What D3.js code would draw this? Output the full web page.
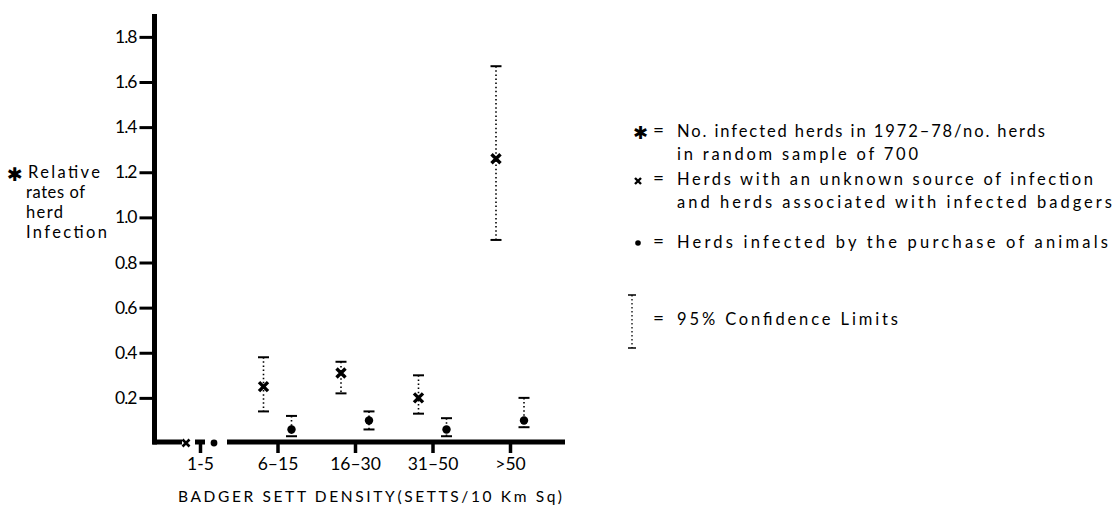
<!DOCTYPE html>
<html>
<head>
<meta charset="utf-8">
<script src="https://cdn.jsdelivr.net/npm/d3@7"></script>
<style>
  body { margin: 0; background: #fff; }
  svg { display: block; }
  text { font-family: Lato, "Open Sans", sans-serif; fill: #000; }
</style>
</head>
<body>
<svg id="chart" width="1115" height="506"></svg>
<script>
// categories of badger sett density
const categories = ["1-5", "6\u201315", "16\u201330", "31\u201350", ">50"];

// x = herds with unknown source / associated with infected badgers
const unknownRate = [0, 0.25, 0.31, 0.20, 1.26];
const unknownLow  = [null, 0.14, 0.22, 0.13, 0.90];
const unknownHigh = [null, 0.38, 0.36, 0.30, 1.67];

// dot = herds infected by purchase of animals
const purchaseRate = [0, 0.06, 0.10, 0.06, 0.10];
const purchaseLow  = [null, 0.03, 0.06, 0.03, 0.07];
const purchaseHigh = [null, 0.12, 0.14, 0.11, 0.20];

const yTicks = [0.2, 0.4, 0.6, 0.8, 1.0, 1.2, 1.4, 1.6, 1.8];

const yLabelLines = ["Relative", "rates of", "herd", "Infection"];
const xTitle = "BADGER SETT DENSITY(SETTS/10 Km Sq)";

const legendItems = [
    {sym: "star", lines: ["No. infected herds in 1972\u201378/no. herds", "in random sample of 700"]},
    {sym: "cross", lines: ["Herds with an unknown source of infection", "and herds associated with infected badgers"]},
    {sym: "dot", lines: ["Herds infected by the purchase of animals"]},
    {sym: "ci", lines: ["95% Confidence Limits"]}
];

const svg = d3.select("#chart");

const axisX = 154.5, axisY = 442;

const y = d3.scaleLinear().domain([0, 1.6]).range([443, 82]);
const x = d3.scalePoint().domain(categories).range([200, 510]);

const off = 14; // offset of the two series around the tick

// ---- y axis ----
const yAxis = svg.append("g")
    .attr("transform", `translate(${axisX},0)`)
    .call(d3.axisLeft(y).tickValues(yTicks).tickFormat(d3.format(".1f")).tickSize(15).tickPadding(3));
yAxis.select(".domain").remove();
yAxis.selectAll(".tick line").attr("stroke", "#000").attr("stroke-width", 3);
yAxis.selectAll(".tick text")
    .style("font-size", "17.5px").style("font-family", "Lato, sans-serif").attr("fill", "#000")
    .attr("letter-spacing", "-1");

svg.append("line")
    .attr("x1", axisX).attr("x2", axisX)
    .attr("y1", 14).attr("y2", axisY + 2.5)
    .attr("stroke", "#000").attr("stroke-width", 5);

// ---- x axis ----
const xAxis = svg.append("g")
    .attr("transform", `translate(0,${axisY})`)
    .call(d3.axisBottom(x).tickSize(11).tickPadding(5));
xAxis.select(".domain").remove();
xAxis.selectAll(".tick line").attr("stroke", "#000").attr("stroke-width", 3.5);
xAxis.selectAll(".tick text")
    .style("font-size", "17.5px").style("font-family", "Lato, sans-serif").attr("fill", "#000");

// broken base line around the 1-5 points
const x0 = x(categories[0]);
const baseSegs = [[axisX - 2, x0 - 18], [x0 - 5, x0 + 5], [x0 + 27, 565]];
svg.selectAll(".baseSeg").data(baseSegs).enter().append("line")
    .attr("class", "baseSeg")
    .attr("x1", d => d[0]).attr("x2", d => d[1])
    .attr("y1", axisY).attr("y2", axisY)
    .attr("stroke", "#000").attr("stroke-width", 5);

svg.append("text")
    .attr("x", 178).attr("y", 502)
    .attr("textLength", 384).attr("lengthAdjust", "spacing")
    .style("font-size", "15.5px")
    .text(xTitle);

// ---- y label ----
svg.append("text").attr("x", 7).attr("y", 181)
    .style("font-family", "DejaVu Sans").style("font-size", "19px").style("font-weight", "bold")
    .text("\u2731");
const yLabX = [28, 26, 26, 26], yLabW = [72, 59, 37, 81];
svg.selectAll(".ylab").data(yLabelLines).enter().append("text")
    .attr("class", "ylab")
    .attr("x", (d, i) => yLabX[i])
    .attr("y", (d, i) => 178 + i * 20)
    .attr("textLength", (d, i) => yLabW[i]).attr("lengthAdjust", "spacing")
    .style("font-size", "16.5px")
    .text(d => d);

// ---- marks ----
function errorBar(g, cx, lo, hi, capW) {
    g.append("line")
        .attr("x1", cx).attr("x2", cx)
        .attr("y1", y(hi)).attr("y2", y(lo))
        .attr("stroke", "#000").attr("stroke-width", 1.6)
        .attr("stroke-dasharray", "1.5,2.6");
    [hi, lo].forEach(v => {
        g.append("line")
            .attr("x1", cx - capW / 2).attr("x2", cx + capW / 2)
            .attr("y1", y(v)).attr("y2", y(v))
            .attr("stroke", "#000").attr("stroke-width", 2);
    });
}

function cross(g, cx, cy, s, w) {
    g.append("path")
        .attr("d", `M${cx - s},${cy - s}L${cx + s},${cy + s}M${cx - s},${cy + s}L${cx + s},${cy - s}`)
        .attr("stroke", "#000").attr("stroke-width", w).attr("fill", "none");
}

const marks = svg.append("g");
categories.forEach((c, i) => {
    const cxU = x(c) - off, cxP = x(c) + off;
    if (unknownLow[i] !== null) errorBar(marks, cxU, unknownLow[i], unknownHigh[i], 11);
    if (purchaseLow[i] !== null) errorBar(marks, cxP, purchaseLow[i], purchaseHigh[i], 11);
    const big = unknownRate[i] > 0;
    cross(marks, cxU, y(unknownRate[i]), big ? 4.5 : 3.5, big ? 3.4 : 2.6);
    marks.append("circle")
        .attr("cx", cxP).attr("cy", y(purchaseRate[i]))
        .attr("r", purchaseRate[i] > 0 ? 4.2 : 3.4)
        .attr("fill", "#000");
});

// ---- legend ----
const legend = svg.append("g");
const legBase = [137, 185, 248, 325];
legendItems.forEach((item, i) => {
    const by = legBase[i];
    if (item.sym === "star") {
        legend.append("text").attr("x", 633).attr("y", by + 2)
            .style("font-family", "DejaVu Sans").style("font-size", "18px").style("font-weight", "bold")
            .text("\u2731");
    } else if (item.sym === "cross") {
        cross(legend, 638, by - 4, 3, 2.4);
    } else if (item.sym === "dot") {
        legend.append("circle").attr("cx", 638).attr("cy", by - 5).attr("r", 2.8).attr("fill", "#000");
    } else {
        legend.append("line").attr("x1", 632).attr("x2", 632).attr("y1", 295).attr("y2", 348)
            .attr("stroke", "#000").attr("stroke-width", 1.3).attr("stroke-dasharray", "1.5,2.5");
        [295, 348].forEach(v => {
            legend.append("line").attr("x1", 628).attr("x2", 636).attr("y1", v).attr("y2", v)
                .attr("stroke", "#000").attr("stroke-width", 1.5);
        });
    }
    legend.append("text").attr("x", 653).attr("y", by)
        .style("font-size", "19px").text("=");
});

const legLines = [
    {t: legendItems[0].lines[0], y: 137, w: 368},
    {t: legendItems[0].lines[1], y: 160, w: 241},
    {t: legendItems[1].lines[0], y: 185, w: 416},
    {t: legendItems[1].lines[1], y: 208, w: 435},
    {t: legendItems[2].lines[0], y: 248, w: 431},
    {t: legendItems[3].lines[0], y: 325, w: 221}
];
legend.selectAll(".legtext").data(legLines).enter().append("text")
    .attr("class", "legtext")
    .attr("x", 677).attr("y", d => d.y)
    .attr("textLength", d => d.w).attr("lengthAdjust", "spacing")
    .style("font-size", "16.5px")
    .text(d => d.t);
</script>
</body>
</html>
